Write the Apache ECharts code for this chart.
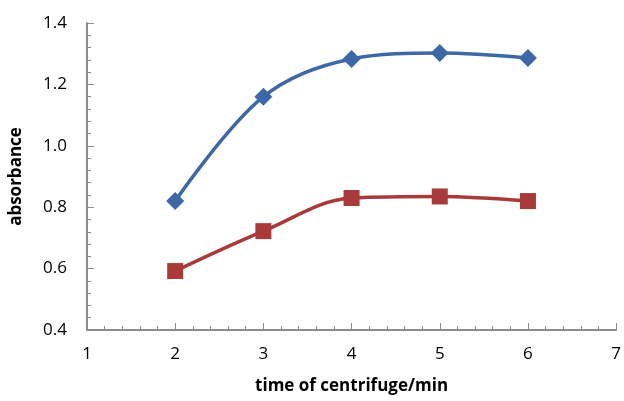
<html>
<head>
    <meta charset="utf-8">
    <title>ECharts</title>
    <script src="https://cdn.jsdelivr.net/npm/echarts@6/dist/echarts.min.js"></script>
</head>
<body style="margin:0">
    <div id="main" style="width: 624px;height:401px;"></div>
    <script type="text/javascript">
        var myChart = echarts.init(document.getElementById('main'));

        // centrifuge time (min)
        var times = [2, 3, 4, 5, 6];
        // absorbance readings
        var blueSeries = [0.82, 1.16, 1.283, 1.302, 1.286];
        var redSeries = [0.592, 0.722, 0.83, 0.835, 0.82];

        function pairs(xs, ys) {
            return xs.map(function (x, i) { return [x, ys[i]]; });
        }

        var axisColor = '#8c8c8c';
        var font = 'Open Sans';

        option = {
            animation: false,
            grid: { left: 84, right: 7, top: 23, bottom: 71 },
            xAxis: {
                type: 'value',
                min: 1, max: 7, interval: 1,
                name: 'time of centrifuge/min',
                nameLocation: 'middle',
                nameGap: 48,
                nameTextStyle: { fontFamily: font, fontWeight: 'bold', fontSize: 17, color: '#000' },
                axisLine: { lineStyle: { color: axisColor, width: 2 } },
                axisTick: { inside: true, length: 7, lineStyle: { color: axisColor } },
                minorTick: { show: true, splitNumber: 5, length: 4, lineStyle: { color: axisColor } },
                axisLabel: { fontFamily: font, fontSize: 17, color: '#000', margin: 16 },
                splitLine: { show: false }
            },
            yAxis: {
                type: 'value',
                min: 0.4, max: 1.4, interval: 0.2,
                name: 'absorbance',
                nameLocation: 'middle',
                nameGap: 62,
                nameTextStyle: { fontFamily: font, fontWeight: 'bold', fontSize: 17, color: '#000' },
                axisLine: { show: true, lineStyle: { color: axisColor, width: 2 } },
                axisTick: { show: true, inside: true, length: 7, lineStyle: { color: axisColor } },
                minorTick: { show: true, splitNumber: 5, length: 4, lineStyle: { color: axisColor } },
                axisLabel: {
                    fontFamily: font, fontSize: 17, color: '#000', margin: 20,
                    formatter: function (v) { return v.toFixed(1); }
                },
                splitLine: { show: false }
            },
            series: [
                {
                    type: 'line',
                    data: pairs(times, blueSeries),
                    smooth: 0.35,
                    symbol: 'diamond',
                    symbolSize: 18,
                    lineStyle: { color: '#3c68a6', width: 3.5 },
                    itemStyle: { color: '#3c68a6' }
                },
                {
                    type: 'line',
                    data: pairs(times, redSeries),
                    smooth: 0.35,
                    symbol: 'rect',
                    symbolSize: 16,
                    lineStyle: { color: '#a83a3a', width: 3.5 },
                    itemStyle: { color: '#a83a3a' }
                }
            ]
        };

        myChart.setOption(option);
    </script>
</body>
</html>
